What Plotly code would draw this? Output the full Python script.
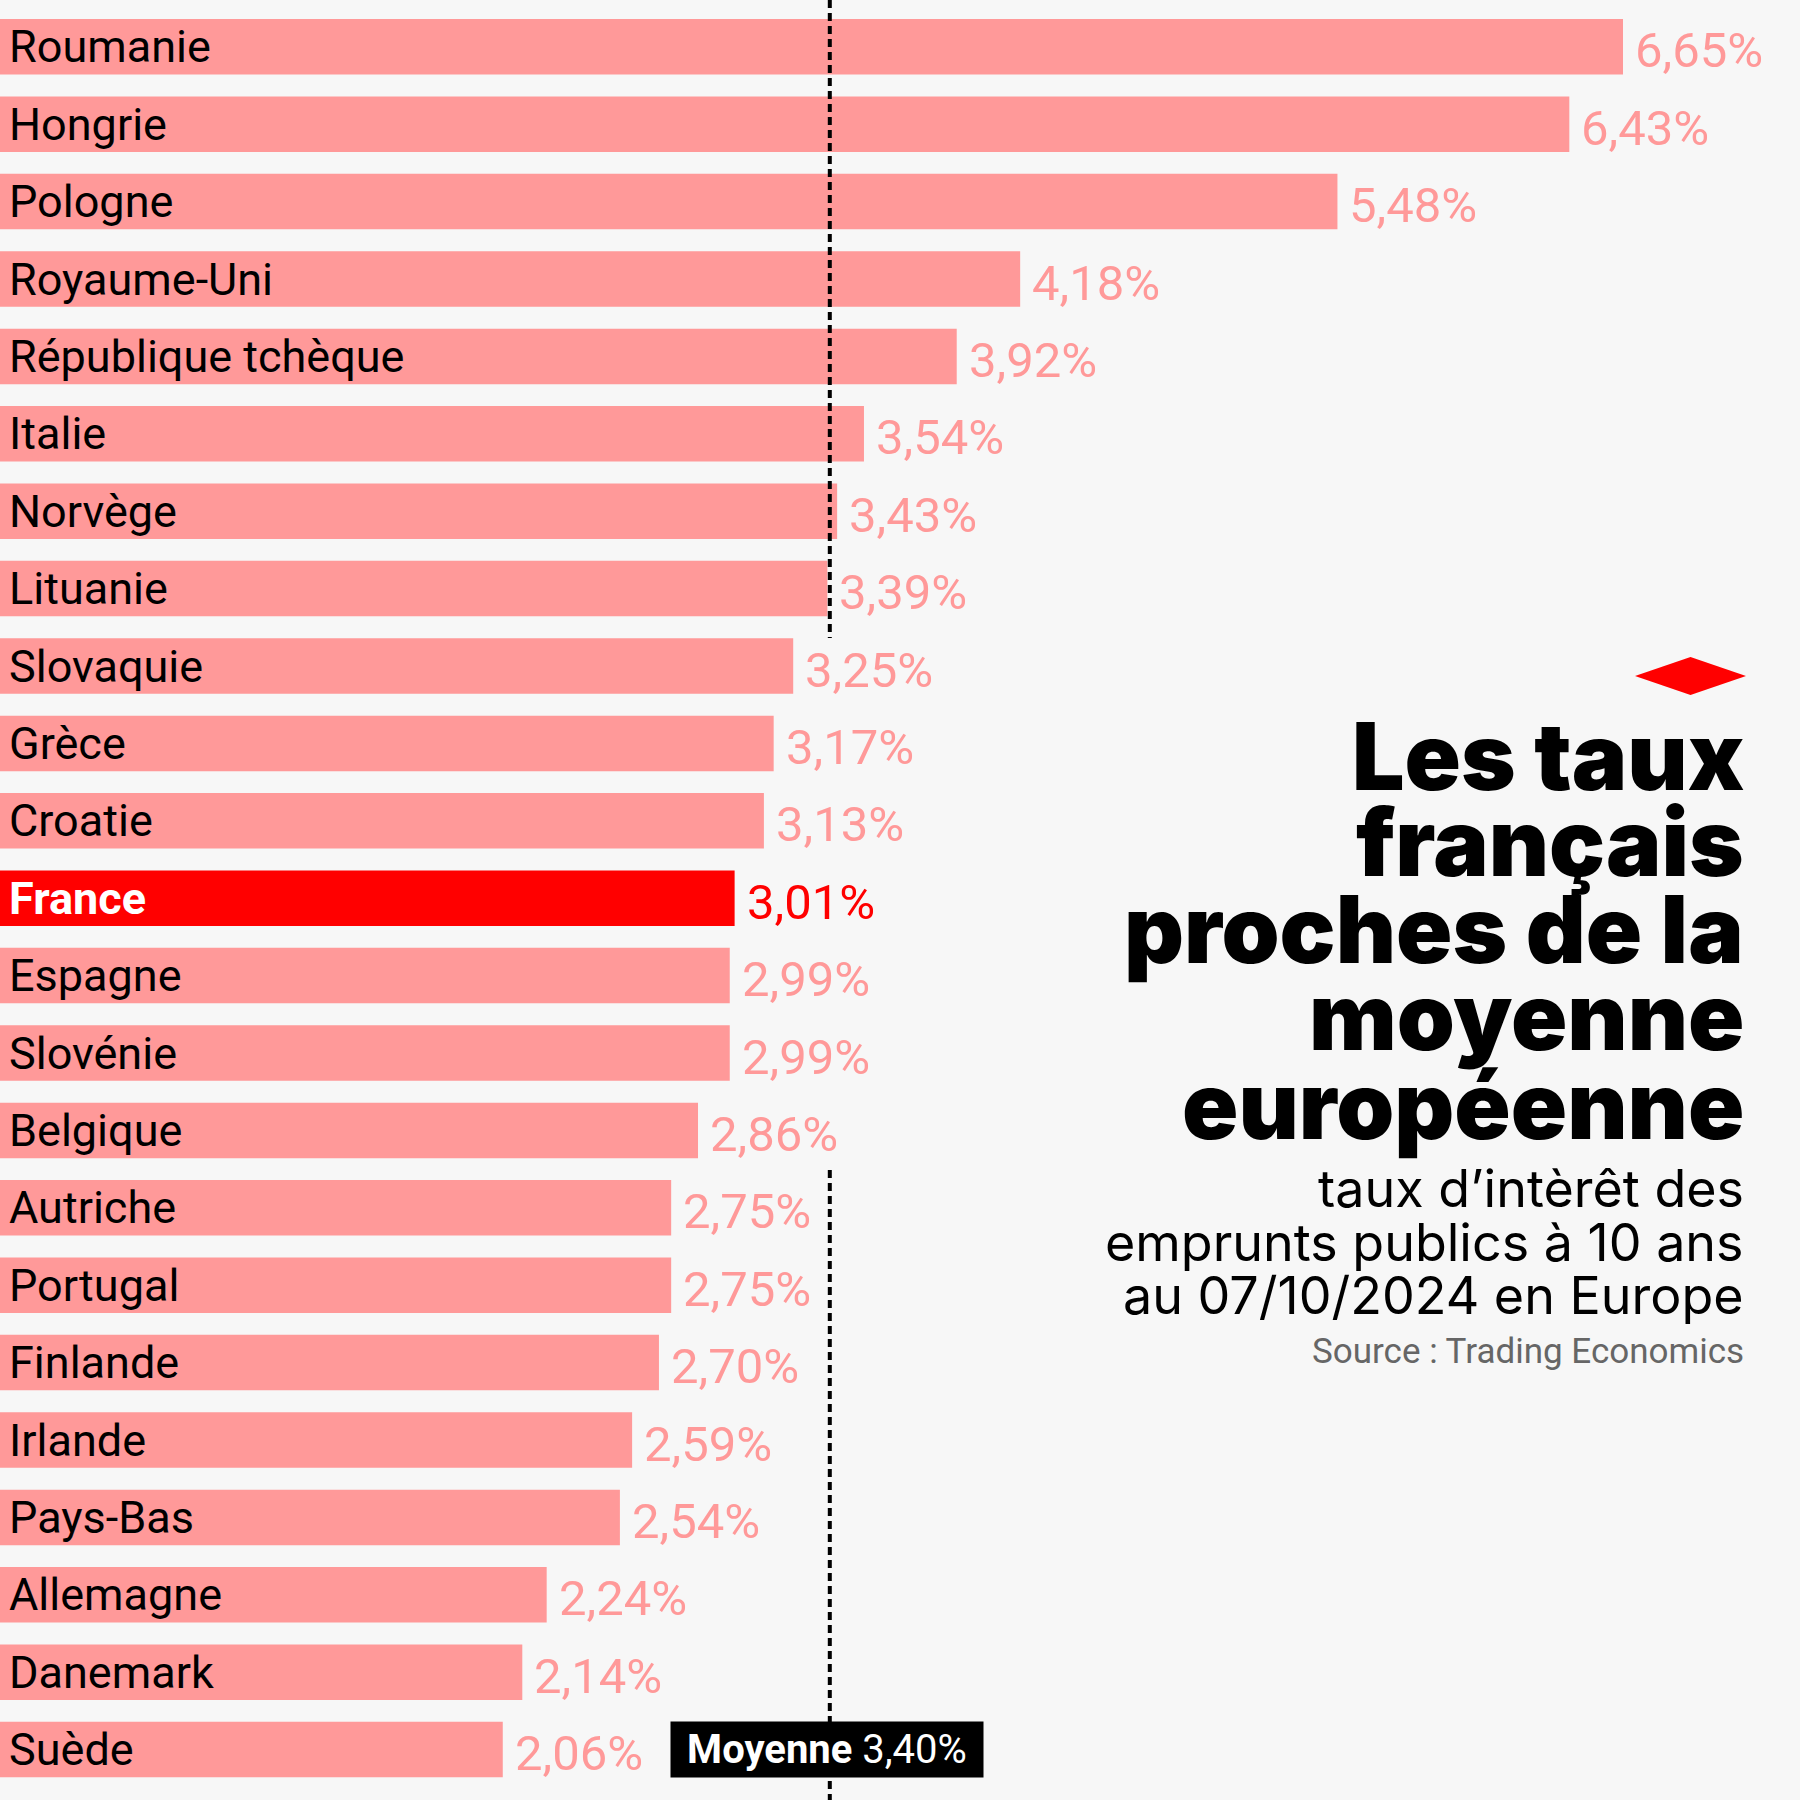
import plotly.graph_objects as go

countries = ["Roumanie", "Hongrie", "Pologne", "Royaume-Uni", "République tchèque",
             "Italie", "Norvège", "Lituanie", "Slovaquie", "Grèce", "Croatie",
             "France", "Espagne", "Slovénie", "Belgique", "Autriche", "Portugal",
             "Finlande", "Irlande", "Pays-Bas", "Allemagne", "Danemark", "Suède"]
values = [6.65, 6.43, 5.48, 4.18, 3.92, 3.54, 3.43, 3.39, 3.25, 3.17, 3.13,
          3.01, 2.99, 2.99, 2.86, 2.75, 2.75, 2.70, 2.59, 2.54, 2.24, 2.14, 2.06]
highlight = "France"
mean_value = 3.40
mean_label = "<b>Moyenne</b> 3,40%"
title_lines = ["Les taux", "français", "proches de la", "moyenne", "européenne"]
subtitle_lines = ["taux d’intèrêt des", "emprunts publics à 10 ans", "au 07/10/2024 en Europe"]
source_text = "Source : Trading Economics"

W = H = 1800
PINK = "#FF9999"
RED = "#FF0000"
BG = "#F7F7F7"
PX_PER_UNIT = 244.06
PITCH = 77.4
FIRST_CENTER = 46.8
RIGHT_EDGE = 1746


def py(p):
    return 1 - p / H


def px(p):
    return p / W


def fmt(v):
    return f"{v:.2f}".replace(".", ",") + "%"


colors = [RED if c == highlight else PINK for c in countries]

fig = go.Figure()
fig.add_trace(go.Bar(
    x=values, y=countries, orientation="h",
    marker=dict(color=colors, line=dict(width=0)),
    width=55.5 / PITCH, hoverinfo="skip", showlegend=False,
))

annotations = []
for c, v in zip(countries, values):
    is_h = c == highlight
    annotations.append(dict(
        x=0, y=c, xref="x", yref="y", text=(f"<b>{c}</b>" if is_h else c),
        showarrow=False, xanchor="left", yanchor="middle", xshift=7,
        font=dict(family="Roboto", size=45, color="white" if is_h else "black"),
    ))
    annotations.append(dict(
        x=v, y=c, xref="x", yref="y", text=fmt(v),
        showarrow=False, xanchor="left", yanchor="middle", xshift=10, yshift=-4,
        font=dict(family="Roboto", size=49, color=RED if is_h else PINK),
    ))

# Mean label box
annotations.append(dict(
    x=mean_value, y=countries[-1], xref="x", yref="y", text=mean_label,
    showarrow=False, xanchor="center", yanchor="middle", xshift=-3,
    width=312, height=55, bgcolor="black", borderpad=0,
    font=dict(family="Roboto", size=40, color="white"),
))

# Title
title_centers = [756, 842, 929, 1016, 1105]
for t, cy in zip(title_lines, title_centers):
    annotations.append(dict(
        x=px(RIGHT_EDGE), y=py(cy), xref="paper", yref="paper", text=t,
        showarrow=False, xanchor="right", yanchor="middle",
        font=dict(family="Inter", size=93, color="black", weight=900),
    ))

sub_centers = [1188, 1242, 1295]
for t, cy in zip(subtitle_lines, sub_centers):
    annotations.append(dict(
        x=px(RIGHT_EDGE), y=py(cy), xref="paper", yref="paper", text=t,
        showarrow=False, xanchor="right", yanchor="middle",
        font=dict(family="Inter", size=52, color="black"),
    ))

annotations.append(dict(
    x=px(RIGHT_EDGE), y=py(1351), xref="paper", yref="paper", text=source_text,
    showarrow=False, xanchor="right", yanchor="middle",
    font=dict(family="Roboto", size=35, color="#666666"),
))

shapes = [
    dict(type="line", xref="x", yref="paper", x0=mean_value, x1=mean_value,
         y0=1, y1=py(638), line=dict(color="black", width=4, dash="8px,5px"), layer="above"),
    dict(type="line", xref="x", yref="paper", x0=mean_value, x1=mean_value,
         y0=py(1170), y1=0, line=dict(color="black", width=4, dash="8px,5px"), layer="above"),
    dict(type="path", xref="paper", yref="paper",
         path=(f"M {px(1635)},{py(676)} L {px(1690.5)},{py(657)} "
               f"L {px(1746)},{py(676)} L {px(1690.5)},{py(695)} Z"),
         fillcolor=RED, line=dict(width=0), layer="above"),
]

fig.update_layout(
    width=W, height=H,
    margin=dict(l=0, r=0, t=0, b=0),
    paper_bgcolor=BG, plot_bgcolor=BG,
    xaxis=dict(range=[0, W / PX_PER_UNIT], visible=False, fixedrange=True),
    yaxis=dict(type="category", categoryorder="array", categoryarray=countries,
               range=[(H - FIRST_CENTER) / PITCH, -FIRST_CENTER / PITCH],
               visible=False, fixedrange=True),
    annotations=annotations,
    shapes=shapes,
    showlegend=False,
)

fig.write_html("out.html", config={"displayModeBar": False},
               post_script="document.body.style.margin='0px';")
